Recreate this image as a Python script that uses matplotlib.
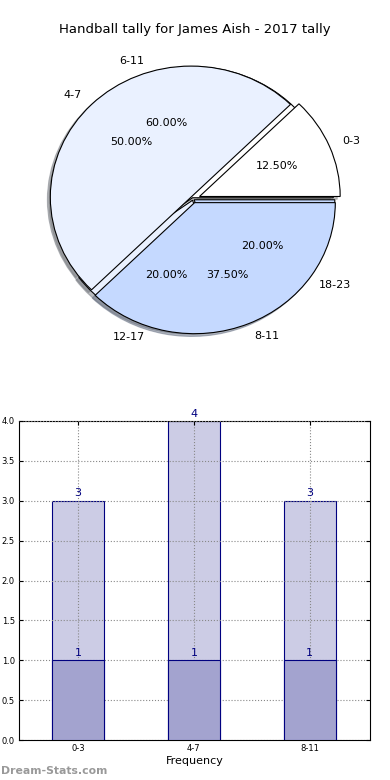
import numpy as np
import matplotlib
matplotlib.use('Agg')
import matplotlib.pyplot as plt

# pie 1: age groups of 4 years
pie1_labels = ['0-3', '4-7', '8-11']
pie1_values = [12.5, 50.0, 37.5]
# pie 2: age groups of 6 years
pie2_labels = ['6-11', '12-17', '18-23']
pie2_values = [60.0, 20.0, 20.0]

# bar chart
bar_cats = ['0-3', '4-7', '8-11']
bar_totals = [3, 4, 3]
bar_base = [1, 1, 1]

pie_colors = ['#ffffff', '#eaf1ff', '#c5d9ff']
navy = '#000080'

fig = plt.figure(figsize=(3.9, 7.8), dpi=100)

# --- pie chart (two pies on the same axes) ---
ax1 = fig.add_axes([4.5 / 390, 408 / 780, 377 / 390, 346 / 780])
for labels, values, expl in [(pie2_labels, pie2_values, (0.01, 0.01, 0.01)),
                             (pie1_labels, pie1_values, (0.05, 0.02, 0.03))]:
    wedges, texts, autotexts = ax1.pie(values, labels=labels, colors=pie_colors,
                                       autopct='%1.2f%%',
                                       shadow={'ox': -0.015, 'oy': -0.015, 'shade': 0.5},
                                       explode=expl, startangle=0,
                                       wedgeprops=dict(edgecolor='black', linewidth=0.8),
                                       textprops=dict(fontsize=8))
ax1.set_aspect('auto')
ax1.set_xlim(-1.34, 1.34)
ax1.set_ylim(-1.32, 1.32)
fig.text(0.5, 1 - 30 / 780, 'Handball tally for James Aish - 2017 tally',
         ha='center', va='center', fontsize=9.5)

# --- bar chart ---
ax2 = fig.add_axes([19 / 390, 40 / 780, 351 / 390, 319 / 780])
x = np.arange(len(bar_cats))
w = 0.45
ax2.bar(x, bar_totals, w, color='#ccccE5', edgecolor=navy, linewidth=0.8, zorder=2)
ax2.bar(x, bar_base, w, color='#a3a3cf', edgecolor=navy, linewidth=0.8, zorder=3)
for xi, t, b in zip(x, bar_totals, bar_base):
    ax2.text(xi, t + 0.03, str(t), ha='center', va='bottom', fontsize=8, color=navy, zorder=5)
    ax2.text(xi, b + 0.03, str(b), ha='center', va='bottom', fontsize=8, color=navy, zorder=5)
ax2.set_xlim(-0.51, 2.52)
ax2.set_ylim(0, 4.0)
ax2.set_xticks(x)
ax2.set_xticklabels(bar_cats)
ax2.set_yticks(np.arange(0, 4.01, 0.5))
ax2.set_yticklabels(['%.1f' % v for v in np.arange(0, 4.01, 0.5)])
ax2.tick_params(labelsize=6, direction='in', top=True, right=True, length=3, pad=3)
ax2.grid(True, linestyle=':', color='#888888', linewidth=0.8, zorder=4)
ax2.set_axisbelow(False)
ax2.set_xlabel('Frequency', fontsize=8, labelpad=2)

fig.text(1 / 390, 1 - 771 / 780, 'Dream-Stats.com', ha='left', va='center',
         fontsize=7.8, color='#999999', fontweight='bold')

fig.savefig('out.png', dpi=100)
